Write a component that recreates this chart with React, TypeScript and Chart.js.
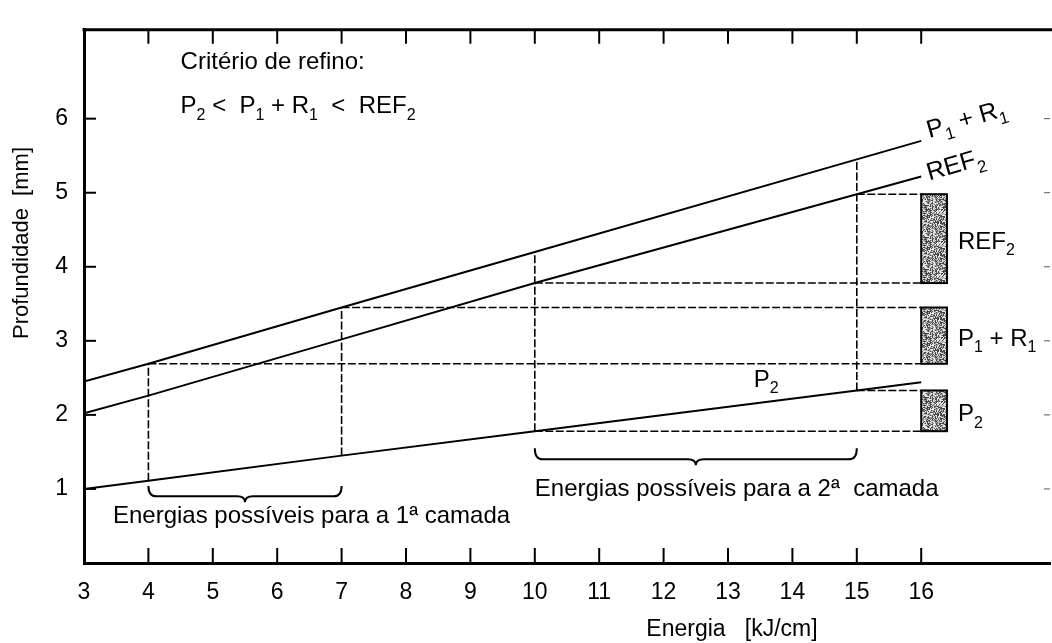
import React, { useEffect, useRef } from "react";
import { Chart, registerables } from "chart.js";

Chart.register(...registerables);

const FONT = 'Arial, "Liberation Sans", Helvetica, sans-serif';

// ---- data ----
const energy = [3, 4, 7, 10, 15, 16];
const p1r1 = [2.45, 2.69, 3.45, 4.2, 5.45, 5.7];
const ref2 = [2.02, 2.26, 3.02, 3.78, 4.98, 5.22];
const p2 = [1.0, 1.11, 1.45, 1.78, 2.33, 2.44];

const xTickValues = [3, 4, 5, 6, 7, 8, 9, 10, 11, 12, 13, 14, 15, 16];
const yTickValues = [1, 2, 3, 4, 5, 6];

// vertical dashed guides: energies (indices into energy) from P2 up to P1+R1
const guideIdx = [1, 2, 3, 4];
// horizontal dashed guides: level and starting energy (all run to the bars)
const hLevel = [2.69, 3.45, 3.78, 4.98, 1.78, 2.33];
const hStart = [4, 7, 10, 15, 10, 15];

// range bars at the right
const barLow = [3.78, 2.69, 1.78];
const barHigh = [4.98, 3.45, 2.33];
const barFrom = 16;
const barTo = 16.4;

// braces (energy ranges)
const braceFrom = [4, 10];
const braceTo = [7, 15];
const braceEnd = [1.04, 1.55];
const braceMid = [0.9, 1.4];

type Seg = [string, boolean?];

function drawRich(ctx: CanvasRenderingContext2D, segs: Seg[], x: number, y: number, size: number) {
  const sub = Math.round(size * 0.68);
  ctx.textBaseline = "alphabetic";
  ctx.textAlign = "left";
  let cx = x;
  for (const [t, s] of segs) {
    ctx.font = `${s ? sub : size}px ${FONT}`;
    ctx.fillText(t, cx, s ? y + size * 0.28 : y);
    cx += ctx.measureText(t).width;
  }
}

function makeStipple(ctx: CanvasRenderingContext2D) {
  const n = 32;
  const c = document.createElement("canvas");
  c.width = n;
  c.height = n;
  const g = c.getContext("2d")!;
  const img = g.createImageData(n, n);
  for (let j = 0; j < n; j++) {
    for (let i = 0; i < n; i++) {
      let h = (Math.imul(i, 374761393) + Math.imul(j, 668265263)) >>> 0;
      h = Math.imul(h ^ (h >>> 13), 1274126177) >>> 0;
      h = (h ^ (h >>> 16)) & 255;
      const v = h < 100 ? 70 : h < 170 ? 160 : 230;
      const k = (j * n + i) * 4;
      img.data[k] = v;
      img.data[k + 1] = v;
      img.data[k + 2] = v;
      img.data[k + 3] = 255;
    }
  }
  g.putImageData(img, 0, 0);
  return ctx.createPattern(c, "repeat");
}

const pts = (ys: number[]) => energy.map((x, i) => ({ x, y: ys[i] }));

export default function App() {
  const ref = useRef<HTMLCanvasElement | null>(null);

  useEffect(() => {
    const canvas = ref.current!;
    const ctx0 = canvas.getContext("2d")!;
    const stipple = makeStipple(ctx0);

    const solid = (ys: number[]) => ({
      data: pts(ys),
      showLine: true,
      borderColor: "#000",
      borderWidth: 2,
      pointRadius: 0,
      tension: 0,
    });
    const dashed = (data: { x: number; y: number }[]) => ({
      data,
      showLine: true,
      borderColor: "#000",
      borderWidth: 1.6,
      borderDash: [8, 2.5],
      pointRadius: 0,
    });

    const datasets: any[] = [solid(p1r1), solid(ref2), solid(p2)];
    guideIdx.forEach((i) =>
      datasets.push(dashed([{ x: energy[i], y: p2[i] }, { x: energy[i], y: p1r1[i] }]))
    );
    hLevel.forEach((lv, i) => datasets.push(dashed([{ x: hStart[i], y: lv }, { x: barFrom, y: lv }])));

    const decor = {
      id: "decor",
      afterDatasetsDraw(chart: any) {
        const { ctx, chartArea: a, scales } = chart;
        const xs = scales.x;
        const ys = scales.y;
        const px = (v: number) => xs.getPixelForValue(v);
        const py = (v: number) => ys.getPixelForValue(v);
        ctx.save();
        ctx.fillStyle = "#000";
        ctx.strokeStyle = "#000";

        // bars
        barLow.forEach((lo, i) => {
          const x0 = px(barFrom);
          const x1 = px(barTo);
          const y0 = py(barHigh[i]);
          const y1 = py(lo);
          ctx.fillStyle = stipple || "#999";
          ctx.fillRect(x0, y0, x1 - x0, y1 - y0);
          ctx.lineWidth = 2;
          ctx.strokeRect(x0, y0, x1 - x0, y1 - y0);
        });
        ctx.fillStyle = "#000";

        // bar labels
        const lx = px(barTo) + 11;
        const mid = (i: number) => (py(barLow[i]) + py(barHigh[i])) / 2 + 10;
        drawRich(ctx, [["REF"], ["2", true]], lx, mid(0), 24);
        drawRich(ctx, [["P"], ["1", true], [" + R"], ["1", true]], lx, mid(1), 24);
        drawRich(ctx, [["P"], ["2", true]], lx, mid(2), 24);

        // frame: top border
        ctx.lineWidth = 3;
        ctx.beginPath();
        ctx.moveTo(a.left - 1.5, a.top);
        ctx.lineTo(a.right + 2, a.top);
        ctx.stroke();

        // inward tick marks
        ctx.lineWidth = 2;
        xTickValues.forEach((v) => {
          if (v === xTickValues[0]) return;
          const x = px(v);
          ctx.beginPath();
          ctx.moveTo(x, a.bottom);
          ctx.lineTo(x, a.bottom - 15);
          ctx.moveTo(x, a.top);
          ctx.lineTo(x, a.top + 14);
          ctx.stroke();
        });
        yTickValues.forEach((v) => {
          const y = py(v);
          ctx.lineWidth = 2;
          ctx.beginPath();
          ctx.moveTo(a.left, y);
          ctx.lineTo(a.left + 12, y);
          ctx.stroke();
          ctx.lineWidth = 1;
          ctx.strokeStyle = "#555";
          ctx.beginPath();
          ctx.moveTo(a.right - 6, y);
          ctx.lineTo(a.right, y);
          ctx.stroke();
          ctx.strokeStyle = "#000";
        });

        // braces
        ctx.lineWidth = 2;
        braceFrom.forEach((f, i) => {
          const x0 = px(f);
          const x1 = px(braceTo[i]);
          const xm = (x0 + x1) / 2;
          const ye = py(braceEnd[i]);
          const ym = py(braceMid[i]);
          const yt = ym + 6;
          const r = 8;
          ctx.beginPath();
          ctx.moveTo(x0, ye);
          ctx.quadraticCurveTo(x0, ym, x0 + r, ym);
          ctx.lineTo(xm - r, ym);
          ctx.quadraticCurveTo(xm, ym, xm, yt);
          ctx.quadraticCurveTo(xm, ym, xm + r, ym);
          ctx.lineTo(x1 - r, ym);
          ctx.quadraticCurveTo(x1, ym, x1, ye);
          ctx.stroke();
        });

        // annotation texts
        drawRich(ctx, [["Critério de refino:"]], px(4.5), 69, 24);
        drawRich(
          ctx,
          [["P"], ["2", true], [" <  P"], ["1", true], [" + R"], ["1", true], ["  <  REF"], ["2", true]],
          px(4.5),
          113,
          24
        );
        drawRich(ctx, [["Energias possíveis para a 1ª camada"]], px(3.45), py(0.54), 24);
        drawRich(ctx, [["Energias possíveis para a 2ª  camada"]], px(10.0), py(0.9), 24);
        drawRich(ctx, [["P"], ["2", true]], px(13.4), py(2.38), 24);

        // rotated line labels
        const ang = Math.atan2(py(p1r1[5]) - py(p1r1[4]), px(energy[5]) - px(energy[4]));
        const rot = (segs: Seg[], x: number, y: number) => {
          ctx.save();
          ctx.translate(x, y);
          ctx.rotate(ang);
          drawRich(ctx, segs, 0, 0, 25);
          ctx.restore();
        };
        rot([["P"], ["1", true], [" + R"], ["1", true]], px(energy[5]) + 8, py(p1r1[5]) - 3);
        rot([["REF"], ["2", true]], px(energy[5]) + 8, py(ref2[5]) + 4);

        // axis titles
        ctx.font = `23px ${FONT}`;
        ctx.textAlign = "center";
        ctx.textBaseline = "middle";
        ctx.fillText("Energia   [kJ/cm]", 732, 630);
        ctx.font = `22px ${FONT}`;
        ctx.save();
        ctx.translate(22, 243);
        ctx.rotate(-Math.PI / 2);
        ctx.fillText("Profundidade  [mm]", 0, 0);
        ctx.restore();

        ctx.restore();
      },
    };

    const chart = new Chart(canvas, {
      type: "scatter",
      data: { datasets },
      options: {
        animation: false,
        responsive: true,
        maintainAspectRatio: false,
        layout: { padding: { top: 15, right: 2, left: 0, bottom: 0 } },
        plugins: { legend: { display: false }, tooltip: { enabled: false } },
        scales: {
          x: {
            type: "linear",
            min: 3,
            max: 18,
            afterFit: (s: any) => {
              s.height = 80;
            },
            afterBuildTicks: (s: any) => {
              s.ticks = xTickValues.map((v) => ({ value: v }));
            },
            grid: { display: false, drawTicks: false },
            border: { display: true, color: "#000", width: 3 },
            ticks: {
              color: "#000",
              font: { family: FONT, size: 23 },
              padding: 16,
              maxRotation: 0,
              autoSkip: false,
              callback: (v: any) => String(v),
            },
          },
          y: {
            type: "linear",
            min: 0,
            max: 7.2,
            afterFit: (s: any) => {
              s.width = 84;
            },
            afterBuildTicks: (s: any) => {
              s.ticks = yTickValues.map((v) => ({ value: v }));
            },
            grid: { display: false, drawTicks: false },
            border: { display: true, color: "#000", width: 3 },
            ticks: {
              color: "#000",
              font: { family: FONT, size: 23 },
              padding: 16,
              callback: (v: any) => String(v),
            },
          },
        },
      },
      plugins: [decor],
    });
    return () => chart.destroy();
  }, []);

  return (
    <div style={{ position: "fixed", left: 0, top: 0, width: 1052, height: 643, background: "#fff" }}>
      <canvas ref={ref} />
    </div>
  );
}
